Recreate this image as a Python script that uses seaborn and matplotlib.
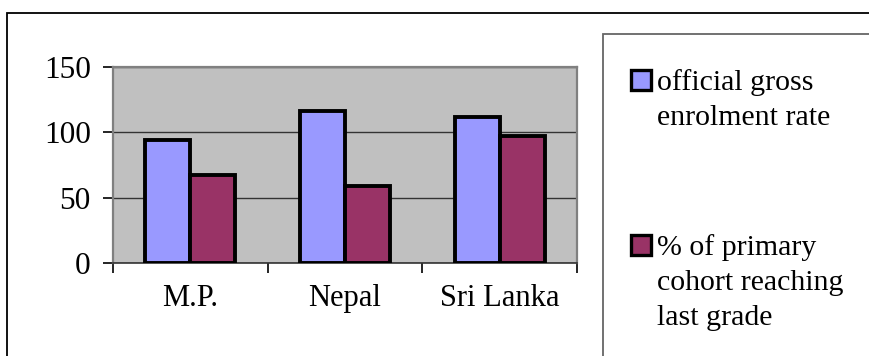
import matplotlib
matplotlib.use("Agg")
import matplotlib.pyplot as plt
from matplotlib.patches import Rectangle
import seaborn as sns
import pandas as pd

countries = ["M.P.", "Nepal", "Sri Lanka"]
series_names = ["official gross\nenrolment rate",
                "% of primary\ncohort reaching\nlast grade"]
enrolment_rate = [94, 116, 112]
cohort_reaching_last = [67, 59, 97]
bar_colors = ["#9999FF", "#993366"]
y_ticks = [0, 50, 100, 150]

df = pd.DataFrame({
    "country": countries * 2,
    "series": [series_names[0]] * 3 + [series_names[1]] * 3,
    "value": enrolment_rate + cohort_reaching_last,
})

sns.set_theme(style="white")
plt.rcParams["font.family"] = ["Liberation Serif", "DejaVu Serif"]

W, H = 869, 356
fig = plt.figure(figsize=(W / 100, H / 100), dpi=100)

def fx(px):
    return px / W

def fy(py):
    return 1 - py / H

ax = fig.add_axes([fx(113), fy(263), fx(577) - fx(113), fy(67) - fy(263)])
ax.set_facecolor("#C0C0C0")

sns.barplot(data=df, x="country", y="value", hue="series", order=countries,
            hue_order=series_names, palette=bar_colors, saturation=1,
            width=0.58, gap=0, edgecolor="black", linewidth=2.8,
            legend=False, ax=ax, zorder=3)

ax.set_ylim(0, 150)
ax.set_xlim(-0.5, 2.5)
ax.set_yticks(y_ticks)
ax.set_yticklabels([str(t) for t in y_ticks], fontsize=22.5)
ax.set_xticks(range(len(countries)))
ax.set_xticklabels(countries, fontsize=22)
ax.set_xticks([-0.5, 0.5, 1.5, 2.5], minor=True)
ax.tick_params(axis="x", which="major", length=0, pad=15, colors="black")
ax.tick_params(axis="x", which="minor", length=7, width=1.2, color="black",
               direction="out", bottom=True)
ax.tick_params(axis="y", which="major", length=7, width=1.2, color="black",
               direction="out", left=True, pad=9, labelcolor="black")
ax.set_xlabel("")
ax.set_ylabel("")
ax.yaxis.grid(True, color="#333333", linewidth=1.0, zorder=1)
ax.set_axisbelow(True)
for side in ["top", "right", "left"]:
    ax.spines[side].set_color("#808080")
    ax.spines[side].set_linewidth(1.6)
ax.spines["bottom"].set_color("#333333")
ax.spines["bottom"].set_linewidth(1.2)

# outer chart frame
fig.patches.append(Rectangle((fx(7), fy(H + 20)), fx(W + 20) - fx(7), fy(13) - fy(H + 20),
                             transform=fig.transFigure, fill=False,
                             edgecolor="black", linewidth=1.3))
# legend frame
fig.patches.append(Rectangle((fx(603), fy(H + 20)), fx(W + 20) - fx(603), fy(34) - fy(H + 20),
                             transform=fig.transFigure, fill=False,
                             edgecolor="#666666", linewidth=1.3))

# legend entries
legend_tops = [70, 235]
for color, label, top in zip(bar_colors, series_names, legend_tops):
    fig.patches.append(Rectangle((fx(631), fy(top + 20)), fx(20) - fx(0), fy(0) - fy(20),
                                 transform=fig.transFigure, facecolor=color,
                                 edgecolor="black", linewidth=2.4))
    fig.text(fx(657), fy(top - 1), label, fontsize=21.5, va="top", ha="left",
             linespacing=1.45, color="black")

fig.savefig("out.png", dpi=100)
